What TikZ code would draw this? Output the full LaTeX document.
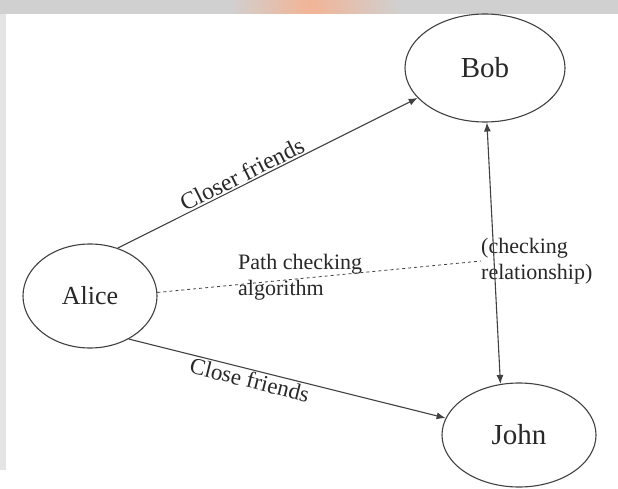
\documentclass[tikz,border=0pt]{standalone}
\usepackage{fontspec}
\setmainfont{Liberation Serif}
\usetikzlibrary{shapes.geometric,arrows.meta}
\definecolor{ink}{RGB}{40,40,40}
\definecolor{edgegray}{RGB}{65,65,65}
\definecolor{bandgray}{RGB}{208,208,208}
\definecolor{stripgray}{RGB}{228,228,228}
\definecolor{bandorange}{RGB}{242,180,150}
\begin{document}
\begin{tikzpicture}[x=1pt,y=-1pt,
  person/.style={ellipse,draw=edgegray,line width=1.1pt,inner sep=0pt,text=ink},
  link/.style={draw=edgegray,line width=1.1pt,-{Latex[length=9pt,width=7pt]}},
  bilink/.style={draw=edgegray,line width=1.1pt,{Latex[length=9pt,width=7pt]}-{Latex[length=9pt,width=7pt]}},
  searchpath/.style={draw=edgegray,line width=0.8pt,dash pattern=on 3pt off 3pt},
  edgelabel/.style={text=ink,inner sep=1.5pt},
  notelabel/.style={text=ink,font=\fontsize{22}{26}\selectfont,inner sep=0pt,align=left,anchor=west}]
\useasboundingbox (0,0) rectangle (618,489);
\fill[white] (0,0) rectangle (618,489);
% header band with a soft warm patch, and left margin strip
\fill[bandgray] (0,0) rectangle (618,14);
\shade[left color=bandgray,right color=bandorange] (230,0) rectangle (310,14);
\shade[left color=bandorange,right color=bandgray] (310,0) rectangle (400,14);
\fill[stripgray] (0,14) rectangle (6,470);

% people
\node[person,minimum width=160pt,minimum height=108pt,font=\fontsize{29}{34}\selectfont] (bob) at (485,68) {Bob};
\node[person,minimum width=134pt,minimum height=104pt,font=\fontsize{26}{30}\selectfont] (alice) at (90,296) {Alice};
\node[person,minimum width=154pt,minimum height=104pt,font=\fontsize{29}{34}\selectfont] (john) at (519,435) {John};

% annotations
\node[notelabel] (path) at (238,277) {Path checking\\algorithm};
\node[notelabel] (chk) at (481,261) {(checking\\relationship)};

% relations
\draw[link] (alice.60) -- (bob.-156) node[pos=0.43,sloped,above,edgelabel,font=\fontsize{24}{28}\selectfont] {Closer friends};
\draw[link] (alice.-48) -- (john.167) node[pos=0.39,sloped,below,edgelabel,font=\fontsize{23}{27}\selectfont] {Close friends};
\draw[bilink] (bob.-88) -- (john.110);
\draw[searchpath] (alice.3) -- (chk.west);
\end{tikzpicture}
\end{document}
